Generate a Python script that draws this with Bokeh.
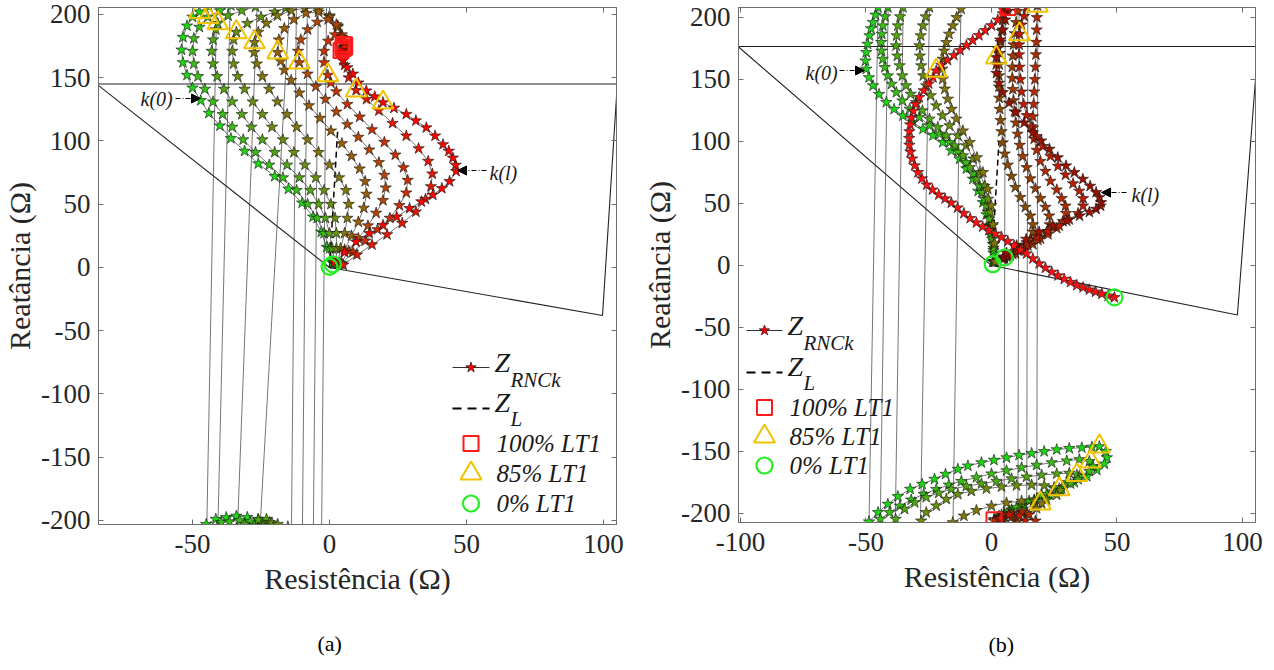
from bokeh.plotting import figure
from bokeh.models import Range1d, LinearAxis, FixedTicker, Label, Arrow, NormalHead, Title
from bokeh.layouts import row
from bokeh.embed import file_html
from bokeh.resources import INLINE

# ---------------- data: panel (a) ----------------
A_curves = [
    [(1,4),(-1,16),(-3,28),(-6,40),(-10,51),(-15,62),(-20,72),(-26,82),(-31,92),(-36,102),(-40,112),(-44,122),(-47,132),(-50,142),(-52,152),(-53.5,162),(-54,172),(-53.5,182),(-52,191),(-50,198),(-47.5,202),(-44,206),(-41,209),
     (-41,230),(-45,-230),(-45,-203),(-41.5,-199),(-37.7,-197.6),(-34,-196.5),(-30,-197.5),(-26,-199),(-23,-202),(-14,-230),(-12,230)],
    [(1.5,3),(0,15),(-2,27),(-4.5,39),(-8,50),(-12,61),(-17,71),(-22,81),(-27,91),(-31.5,101),(-35.5,111),(-39,121),(-42.5,131),(-45.5,141),(-48,151),(-49.5,161),(-50,171),(-49.5,181),(-47.5,190),(-44.4,198),(-40,203),(-36,207),(-33,211),
     (-36,230),(-41,-230),(-41,-205),(-39.5,-201.6),(-36.5,-201),(-32.8,-200),(-29,-201),(-27.4,-204),(-10,-230),(-8,230)],
    [(2,3),(1,15),(0,27),(-1.5,39),(-4,50),(-7,61),(-11,71),(-15.5,81),(-20,91),(-24.5,101),(-28.5,111),(-32,121),(-35.5,131),(-38.5,141),(-41,151),(-42.5,161),(-43,171),(-42.5,180),(-41.5,188),(-40.8,193),(-37,199),(-32,203),(-27,206),(-24,209),
     (-26,230),(-34,-230),(-34,-206),(-31,-203),(-26,-199.5),(-23,-199),(-21.9,-201.6),(-20.7,-205.6),(-6,-230),(-4,230)],
    [(2.5,3),(2.5,15),(2.5,27),(2,39),(0.5,50),(-2,61),(-5,71),(-9,81),(-13,91),(-17,101),(-21,111),(-24.5,121),(-28,131),(-31,141),(-33.5,151),(-35,161),(-35.5,171),(-35,180),(-34,186),(-30,193),(-25,198),(-20,202),(-16,205),(-13,209),
     (-14,230),(-26,-230),(-26,-206),(-24.3,-204),(-21,-202),(-18.9,-203),(-15.2,-205),(-3,-230),(-1,230)],
    [(3,3),(4,15),(5.5,27),(6.5,39),(7,50),(6,61),(3.5,71),(0,81),(-4,91),(-8,101),(-12,111),(-15.5,121),(-19,131),(-22,141),(-24.5,151),(-26.5,161),(-27.5,170),(-27.4,178),(-26,186),(-23,193),(-19,199),(-14,203),(-9,205),(-4,204),(0,199),(3,191),(4.5,182),(5,174)],
    [(3.5,3),(5.5,14),(8,25),(10.5,36),(12.5,47),(13.5,58),(13,68),(11,78),(8,88),(4.5,98),(0.5,108),(-3.5,118),(-7.5,128),(-11,138),(-14,148),(-16.5,156),(-17.8,163),(-18.9,170),(-18.5,180),(-16.5,189),(-13,196),(-8.5,201),(-4,202),(0,198),(3,190),(4.5,181),(5,173)],
    [(4,3),(7,13),(10.5,23),(14,33),(17,43),(19.5,53),(20.5,63),(20,73),(18,83),(14.5,93),(10.5,103),(6.5,113),(2.5,123),(-1.5,133),(-5,143),(-8,153),(-11,162),(-11.5,171),(-10.5,180),(-8,188),(-4.5,194),(-0.5,196),(2.5,192),(4.5,184),(5,176)],
    [(4.5,3),(8.5,12),(13,21),(17.5,30),(22,39),(25.5,49),(28,59),(28.5,69),(27,79),(24,89),(20,99),(15.5,109),(11,119),(6.5,129),(2.5,139),(0.5,146),(-0.6,152),(-2,162),(-2,171),(-0.5,179),(2,184),(4.5,182),(5.5,176)],
    [(5,2),(10,10),(15.5,18),(21,26),(26.5,35),(31.5,44),(35,54),(37,64),(37.5,74),(36,84),(32.5,94),(28,104),(23,114),(18,124),(13.5,133),(9.7,140),(7,150),(5.5,160),(5,168),(5.5,174)],
    [(1.8,4.2),(5.5,12),(9.7,20.2),(14.5,27),(19.5,33.4),(24.5,40),(29.2,46.7),(33.5,52),(37.7,57.3),(41,62.5),(43.8,68),(46.2,76),(46,81),(45,86.6),(43.5,92),(41.4,97.2),(38.5,104),(35.3,110.5),(31.5,116),(28,121.1),(23.5,126),(19.5,130.4),(16.5,135),(13.4,139.7),(10.5,146),(8.5,153),(6.5,158),(4.9,163.6),(4.2,171.5)],
]
A_tri_x = [-47.4,-44.4,-40.8,-34.0,-27.4,-18.9,-11.0,-0.6,9.7,19.5]
A_tri_y = [202,198,193,186,178,170,162,152,140,130.4]
A_sq_x = [5.0,5.0,5.0,5.5,5.5,4.2]
A_sq_y = [174,173,176,176,174,171.5]
A_circ_x = [0.0,1.2]
A_circ_y = [0.5,2.5]
A_zone_x = [-85,0,99.6,105,-85]
A_zone_y = [145,0,-38,145,145]
A_zl_x = [0,3]
A_zl_y = [0,110]

# ---------------- data: panel (b) ----------------
B_curves = [
    [(0.5,3),(0.8,10),(0.6,17),(0,24),(-0.8,32),(-2,41),(-3.4,50.8),(-5.3,60),(-7.4,69.7),(-10,78),(-12.7,85.8),(-16,92.5),(-19.4,99.2),(-23.3,104.8),(-27.3,110),(-31.3,115.5),(-35.3,120.7),(-38.8,126),(-41.9,131.5),(-44.8,138),(-47.2,145),(-48.8,151.5),(-49.9,158.4),(-50.2,165),(-49.9,171.8),(-49.4,178.5),(-48.6,185.3),(-48,191),(-47.2,196),(-46.2,202),(-45.2,208),
     (-45,230),(-49,-230),(-48.8,-206.7),(-45.2,-199.2),(-41.3,-192.5),(-37.3,-186.3),(-32.4,-180.4),(-27.6,-176.4),(-22.7,-172.3),(-18.3,-168.3),(-13.4,-164.3),(-9.4,-161.6),(-4,-159),(1,-157),(6,-155),(11,-153),(16,-151.5),(21,-150),(26,-148.5),(31,-147.5),(36,-147),(40,-146.5),(43,-146),(45.5,-150),(46,-155),(45,-160),(42,-165),(38,-170),(33,-175),(28,-180),(23,-185),(18,-189),(13,-193),(8,-197),(4,-201),(1,-205)],
    [(0.8,3),(0.8,12),(0.3,21.3),(-0.4,32),(-1.4,42.8),(-2.8,53.5),(-4.7,64.3),(-7.2,74),(-10.1,83.1),(-13.3,91.5),(-16.7,99.2),(-20.7,106),(-24.7,112.7),(-28.8,119.5),(-32.6,126.1),(-35.5,132.8),(-37.9,139.5),(-39.8,146.3),(-41.3,153),(-42.5,159.7),(-43.3,166.4),(-43.8,173),(-43.9,179.9),(-43.7,186.6),(-43.3,193.3),(-42.4,200.6),(-41.3,208),
     (-41,230),(-44.5,-230),(-44.3,-204.6),(-40.6,-199.2),(-36.5,-194),(-32,-189),(-27,-184.5),(-22,-180.5),(-17,-177),(-12,-174),(-6,-171),(0,-168),(6,-165.5),(12,-163),(18,-161),(24,-159),(30,-157.5),(35,-156.5),(39,-158),(40.5,-162),(39,-166),(35,-170),(30,-175),(25,-180),(20,-185),(15,-190),(10,-195),(5,-200),(1.5,-205)],
    [(1,3),(0.8,14),(-0.1,26.7),(-0.9,37.5),(-2.1,48.2),(-3.8,59),(-6,69.7),(-8.6,79),(-11.4,88.5),(-14.6,96.5),(-18,104.6),(-21.4,111.4),(-24.7,118.1),(-27.5,124.8),(-30,131.5),(-32.2,138.2),(-34,145),(-35.5,153),(-36.6,161.1),(-37.5,169),(-38,177.2),(-37.8,185.3),(-37.3,193.3),(-36.4,200.6),(-35.3,208),
     (-35,230),(-38.5,-230),(-38.2,-204.6),(-34.6,-196.5),(-30.6,-191.2),(-26,-187),(-21,-183.5),(-16,-180.5),(-10,-178),(-4,-176),(2,-174),(8,-172),(14,-170.5),(20,-169),(26,-168),(31,-167.5),(34,-169),(34.5,-172.5),(31.5,-176),(27,-180),(22,-184.5),(17,-189),(12,-193.5),(7,-198),(3,-202)],
    [(1.2,3),(1,17),(0.3,32),(-0.5,43),(-1.4,53.5),(-2.8,64),(-4.7,75),(-7.2,86),(-10.1,96.6),(-13.4,104.6),(-16.7,112.7),(-19.5,120.8),(-22,128.8),(-24.2,137),(-26,145),(-27.2,153),(-28,161.1),(-28.5,169),(-28.7,177.2),(-28.2,185.3),(-27.3,193.3),(-26.2,200.6),(-24.7,208),
     (-24.5,230),(-28.5,-230),(-28,-206),(-26,-199.2),(-22,-193.8),(-18,-188.5),(-13.4,-184.5),(-8,-182),(-2,-180),(4,-178.5),(10,-177.5),(16,-177),(21,-177.5),(25,-179),(27.5,-181.5),(26,-185),(22,-189),(17,-193),(12,-197),(7,-201)],
    [(1.5,3),(1.2,18),(0.6,33),(-0.1,48.2),(-1.5,61.5),(-3.4,75),(-5.8,87),(-8.7,99.2),(-11.4,108.6),(-14,118.1),(-15.9,126),(-17.4,134.2),(-18.6,142.3),(-19.4,150.3),(-19.6,158.4),(-19.4,166.4),(-18.9,173),(-18,179.9),(-16.9,186.6),(-15.4,193.3),(-13.9,200),(-12.1,206.8),
     (-12,230),(-15.5,-230),(-15.4,-207.3),(-11,-202),(-6,-197.5),(0,-194),(6,-191.5),(12,-190),(17,-190),(20,-192),(18,-196),(14,-200),(10,-204)],
    [(4.5,5),(6,7),(8.5,9),(11,12),(13.5,16),(15.5,21),(16.5,27),(16.5,33),(15.5,40),(13.5,47),(11.5,55),(9.5,63),(8,72),(6.5,81),(5.3,90),(4.5,99),(4,108),(3.6,117),(3.3,126),(3.1,135),(3,144),(3,153),(3.1,162),(3.3,171),(3.6,180),(4,189),(4.5,198),(5,206),(5.5,215),
     (5,-230),(4.5,-207),(3,-204),(1.5,-206)],
    [(5,5.5),(7,7),(9.5,9.5),(13,13),(16.5,17),(19.5,21.5),(22,27),(23.2,33),(23,40),(21.5,47),(19.5,54),(17.5,62),(15.5,70),(14,79),(12.5,88),(11.3,97),(10.4,106),(9.7,115),(9.2,124),(8.8,133),(8.5,142),(8.3,151),(8.3,160),(8.5,169),(8.8,178),(9.3,187),(9.8,196),(10.5,205),(11,215),
     (10.5,-230),(10,-207),(8,-203),(5,-202),(2.5,-205)],
    [(5,6),(7.5,8),(10.5,12),(14.5,16),(18.5,20.5),(22.5,25),(26,30),(28.5,35.5),(29.7,42),(29.5,48),(28,54),(26,61),(23.5,68),(21.5,76),(19.5,84),(18,93),(17,102),(16.5,111),(16.5,120),(16.8,130),(17,140),(17.3,150),(17.5,160),(17.7,170),(17.9,180),(18,190),(18.1,200),(18.3,209.5),(18.5,215),
     (18,-230),(17.5,-206),(15,-201),(12,-199),(8,-200),(4,-203),(1,-206)],
    [(5,6.5),(7,8),(10,14),(14,18.5),(18,23),(22.5,27.5),(27,32),(31,37),(34.5,42),(36.5,48),(36.5,54),(35,60),(32.5,66),(29.5,73),(26.5,80),(23.5,88),(20.5,96),(18,104),(15.8,112),(14,121),(12.8,130),(12,140),(11.5,150),(11.2,160),(11,170),(11,178),(11.2,186.5),(12,194),(13,201),(14,208),(14.5,215),
     (14,-230),(13.5,-206),(11,-202),(7,-201),(3.5,-204)],
    [(5,7),(6,10),(10,16),(13.8,21.2),(19,27),(24.4,32),(30,36),(35.1,40),(39,43),(41.7,45.4),(43.5,48),(43.7,50.8),(43,55),(41.7,58.9),(39.3,64),(36.4,69.6),(33,75),(29.7,80.4),(26.4,87),(23.1,93.8),(19.8,100.5),(16.5,107.2),(13,115),(9.8,123.4),(7,131),(4.5,139.5),(3,147),(2,155),(1.9,162),(1.9,167.7),(2.5,175),(3.5,182),(4.5,190),(5.5,198),(6.5,205)],
]
B_cross = [(49,-25.8),(46.5,-24.5),(44,-23),(41.5,-21.3),(39,-19.6),(36.5,-17.8),(34,-16),(31.5,-13.5),(29,-11),(26.5,-8.2),(24,-5.3),(21.5,-2),(19,1.5),(16.5,5.5),(14,9.5),(11.5,12.5),(9,16),(6.5,19.5),(4,22.8),(1.5,25.5),(-1,28.3),(-3.5,31.2),(-6,34.5),(-8.5,38),(-11,42),(-13.5,46.5),(-16,50.5),(-18.5,53.8),(-21,57),(-23.5,61),(-25.8,65),(-27.7,70),(-29.3,75),(-30.6,80.5),(-31.6,86),(-32.3,91.5),(-32.7,97),(-32.8,102.5),(-32.7,108),(-32.4,113.5),(-31.9,119),(-31.2,124.5),(-30.2,130),(-28.8,135.5),(-27,141),(-25,146.5),(-23.3,151.5),(-22,157),(-20,161.5),(-17.5,165.5),(-15,169.5),(-12.5,173.5),(-10,177.5),(-7.5,181.5),(-5,185.5),(-2.5,189.5),(0,193.5),(2.5,198),(4.5,203),(6.5,208)]
B_tri_x = [-22.0,1.9,11.2,18.3,43.0,39.5,34.0,27.0,19.5]
B_tri_y = [157,167.7,186.5,209.5,-146,-158,-169,-180.5,-192]
B_sq_x = [6.5,1.0]
B_sq_y = [208,-205]
B_circ_x = [0.5,5.2,49.0]
B_circ_y = [1.0,6.4,-25.8]
B_zone_x = [-101,0,98,106.2,-101]
B_zone_y = [176.6,0,-40,176.6,176.6]
B_zl_x = [0,3]
B_zl_y = [0,100]

X_TICKS_A = [-50,0,50,100]
X_TICKS_B = [-100,-50,0,50,100]
Y_TICKS = [-200,-150,-100,-50,0,50,100,150,200]

SERIF = "Liberation Serif"

def grad(i, n=10):
    t = i/(n-1)
    return "#%02x%02x%02x" % (int(30+225*t), int(215*(1-t)), int(20*(1-t)))

class Frame:
    def __init__(s, x0, x1, y0, y1, fl, ft, fw, fh):
        s.x0, s.x1, s.y0, s.y1, s.fl, s.ft, s.fw, s.fh = x0, x1, y0, y1, fl, ft, fw, fh
    def d(s, px, py):
        return (s.x0 + (px - s.fl)/s.fw*(s.x1-s.x0), s.y1 - (py - s.ft)/s.fh*(s.y1-s.y0))

def make_fig(F, xt, mbl, mbr, mbt, mbb):
    p = figure(frame_width=F.fw, frame_height=F.fh, x_range=Range1d(F.x0, F.x1), y_range=Range1d(F.y0, F.y1),
               min_border_left=mbl, min_border_right=mbr, min_border_top=mbt, min_border_bottom=mbb,
               output_backend="svg", toolbar_location=None, background_fill_color="white",
               border_fill_color="white")
    p.grid.visible = False
    p.outline_line_color = "#6e6e6e"
    for ax, ticks in ((p.xaxis[0], xt), (p.yaxis[0], Y_TICKS)):
        ax.ticker = FixedTicker(ticks=ticks)
        ax.major_label_overrides = {v: str(v) for v in ticks}
        ax.major_tick_in = 5
        ax.major_tick_out = 0
        ax.minor_tick_line_color = None
        ax.axis_line_color = "#6e6e6e"
        ax.major_tick_line_color = "#6e6e6e"
        ax.major_label_text_font = SERIF
        ax.major_label_text_font_size = "27px"
        ax.major_label_text_color = "#262626"
        ax.axis_label_text_font = SERIF
        ax.axis_label_text_font_size = "30px"
        ax.axis_label_text_font_style = "normal"
        ax.axis_label_text_color = "#262626"
    p.xaxis.axis_label = "Resistência (Ω)"
    p.yaxis.axis_label = "Reatância (Ω)"
    p.xaxis.major_label_standoff = 10
    p.yaxis.major_label_standoff = 8
    p.xaxis.axis_label_standoff = 6
    p.yaxis.axis_label_standoff = 2
    for loc, ticks in (("above", xt), ("right", Y_TICKS)):
        ax = LinearAxis(ticker=FixedTicker(ticks=ticks), major_tick_in=5, major_tick_out=0,
                        minor_tick_line_color=None, major_label_text_font_size="0px",
                        major_label_overrides={v: "" for v in ticks},
                        major_label_standoff=0, axis_line_color="#6e6e6e", major_tick_line_color="#6e6e6e")
        p.add_layout(ax, loc)
    return p

def draw_curves(p, curves, colors, zone_x, zone_y, zl_x, zl_y):
    p.line(zone_x, zone_y, line_color="#222222", line_width=1.1)
    p.line(zl_x, zl_y, line_color="black", line_width=1.5, line_dash="6 4")
    for pts, c in zip(curves, colors):
        xs = [q[0] for q in pts]; ys = [q[1] for q in pts]
        p.line(xs, ys, line_color="#3a3a3a", line_width=0.7)
    for pts, c in zip(curves, colors):
        xs = [q[0] for q in pts]; ys = [q[1] for q in pts]
        p.scatter(xs, ys, marker="star", size=12, fill_color=c, line_color="#111111", line_width=0.6)

def draw_specials(p, tx, ty, sx, sy, cx, cy):
    p.scatter(sx, sy, marker="square", size=15, fill_color=None, line_color="#ff1a1a", line_width=2)
    p.scatter(tx, ty, marker="triangle", size=21, fill_color=None, line_color="#f2c200", line_width=2)
    p.scatter(cx, cy, marker="circle", size=16, fill_color=None, line_color="#22ee22", line_width=2.2)

def legend(p, F, lx0, lx1, ys, tx):
    mx = (lx0 + lx1)/2
    a = F.d(lx0, ys[0]); b = F.d(lx1, ys[0]); m = F.d(mx, ys[0])
    p.line([a[0], b[0]], [a[1], b[1]], line_color="#333333", line_width=1)
    p.scatter([m[0]], [m[1]], marker="star", size=11, fill_color="red", line_color="black", line_width=0.6)
    a = F.d(lx0, ys[1]); b = F.d(lx1, ys[1])
    p.line([a[0], b[0]], [a[1], b[1]], line_color="black", line_width=2.2, line_dash="9 6")
    m = F.d(mx, ys[2]); p.scatter([m[0]], [m[1]], marker="square", size=15, fill_color=None, line_color="#ff1a1a", line_width=2)
    m = F.d(mx, ys[3]); p.scatter([m[0]], [m[1]], marker="triangle", size=21, fill_color=None, line_color="#f2c200", line_width=2)
    m = F.d(mx, ys[4]); p.scatter([m[0]], [m[1]], marker="circle", size=16, fill_color=None, line_color="#22ee22", line_width=2.2)
    def lab(px, py, t, fs):
        q = F.d(px, py)
        p.add_layout(Label(x=q[0], y=q[1], text=t, text_font=SERIF, text_font_style="italic",
                           text_font_size=fs, text_baseline="middle", text_align="left", text_color="#1a1a1a"))
    lab(tx, ys[0]-5, "Z", "28px"); lab(tx+16, ys[0]+12, "RNCk", "21px")
    lab(tx, ys[1]-6, "Z", "28px"); lab(tx+16, ys[1]+10, "L", "21px")
    for y, t in zip(ys[2:], ["100% LT1", "85% LT1", "0% LT1"]):
        lab(tx+2, y, t, "25px")

def note(p, F, text, tx0, ty, ax0, ax1, ay):
    q = F.d(tx0, ty)
    p.add_layout(Label(x=q[0], y=q[1], text=text, text_font=SERIF, text_font_style="italic",
                       text_font_size="20px", text_baseline="middle", text_align="left", text_color="#1a1a1a"))
    s = F.d(ax0, ay); e = F.d(ax1, ay)
    p.add_layout(Arrow(x_start=s[0], y_start=s[1], x_end=e[0], y_end=e[1], line_width=1,
                       line_dash="5 2 1 2", line_color="black",
                       end=NormalHead(size=9, fill_color="black", line_color="black")))

def caption(p, text, offset, standoff):
    p.add_layout(Title(text=text, align="left", offset=offset, standoff=standoff, text_font=SERIF,
                       text_font_size="22px", text_font_style="normal", text_color="black"), "below")

FA = Frame(-84.3, 104.7, -203.2, 205.5, 99, 12, 518, 517)
FB = Frame(-100.8, 105.2, -207.3, 208.0, 739, 15, 517, 515)

p1 = make_fig(FA, X_TICKS_A, 91, 19, 4, 141)
draw_curves(p1, A_curves, [grad(i) for i in range(10)], A_zone_x, A_zone_y, A_zl_x, A_zl_y)
draw_specials(p1, A_tri_x, A_tri_y, A_sq_x, A_sq_y, A_circ_x, A_circ_y)
legend(p1, FA, 453, 490, [372, 413, 448, 478, 508], 495)
note(p1, FA, "k(0)", 141, 103, 176, 201, 103)
note(p1, FA, "k(l)", 490, 177, 487, 458, 175)
caption(p1, "(a)", 219, 62)

p2 = make_fig(FB, X_TICKS_B, 103, 10, 7, 140)
b_cols = [grad(i) for i in range(5)] + ["#8a4a00", "#a03a00", "#b82800", "#c21a00", "#9c1000"]
draw_curves(p2, B_curves + [B_cross], b_cols + ["#ff1010"], B_zone_x, B_zone_y, B_zl_x, B_zl_y)
draw_specials(p2, B_tri_x, B_tri_y, B_sq_x, B_sq_y, B_circ_x, B_circ_y)
legend(p2, FB, 747, 783, [338, 380, 415, 444, 473], 788)
note(p2, FB, "k(0)", 806, 80, 840, 865, 78)
note(p2, FB, "k(l)", 1132, 202, 1127, 1102, 200)
caption(p2, "(b)", 250, 69)

layout = row(p1, p2)
open("out.html", "w").write(file_html(layout, INLINE))
